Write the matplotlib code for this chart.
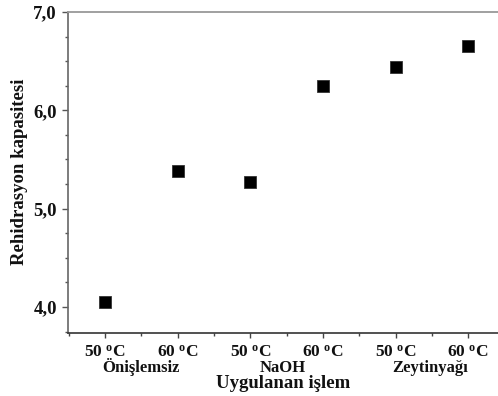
import matplotlib
matplotlib.use("Agg")
import matplotlib.pyplot as plt
from matplotlib.ticker import MultipleLocator, FixedLocator

plt.rcParams['font.family'] = ['Liberation Serif', 'DejaVu Serif']
plt.rcParams['font.weight'] = 'bold'
plt.rcParams['mathtext.fontset'] = 'custom'
plt.rcParams['mathtext.rm'] = 'Liberation Serif:bold'
plt.rcParams['mathtext.bf'] = 'Liberation Serif:bold'
plt.rcParams['mathtext.it'] = 'Liberation Serif:bold'

temps = ["50 $^{\\mathrm{o}}$C", "60 $^{\\mathrm{o}}$C",
         "50 $^{\\mathrm{o}}$C", "60 $^{\\mathrm{o}}$C",
         "50 $^{\\mathrm{o}}$C", "60 $^{\\mathrm{o}}$C"]
groups = ["Önişlemsiz", "NaOH", "Zeytinyağı"]
values = [4.05, 5.38, 5.27, 6.25, 6.44, 6.65]
yticks = [4.0, 5.0, 6.0, 7.0]
ytick_labels = ["4,0", "5,0", "6,0", "7,0"]

W, H = 498, 396
fig = plt.figure(figsize=(W / 100, H / 100), dpi=100)
ax = fig.add_axes([68 / W, 1 - 333 / H, (498 - 68) / W, (333 - 12) / H])

x = list(range(len(values)))
ax.plot(x, values, linestyle='none', marker='s', markersize=8.6,
        color='black', markeredgecolor='#333333', markeredgewidth=0.6)

ax.set_xlim(-0.51, 5.41)
ax.set_ylim(3.735, 7.0)

ax.set_yticks(yticks)
ax.set_yticklabels(ytick_labels, fontsize=13.5, fontweight='bold', color='#111111')
ax.yaxis.set_minor_locator(MultipleLocator(0.25))
ax.set_xticks(x)
ax.set_xticklabels(temps, fontsize=12.5, fontweight='bold', color='#111111')
ax.xaxis.set_minor_locator(FixedLocator([-0.5, 0.5, 1.5, 2.5, 3.5, 4.5]))

ax.tick_params(axis='y', which='major', direction='out', length=4.5, width=1.0,
               color='#555555', pad=3.5)
ax.tick_params(axis='y', which='minor', direction='out', length=2.5, width=1.0,
               color='#555555')
ax.tick_params(axis='x', which='major', direction='out', length=3.5, width=1.0,
               color='#444444', pad=5)
ax.tick_params(axis='x', which='minor', direction='out', length=2.5, width=1.0,
               color='#444444')

ax.spines['right'].set_visible(False)
ax.spines['top'].set_color('#999999')
ax.spines['top'].set_linewidth(1.3)
ax.spines['left'].set_color('#666666')
ax.spines['left'].set_linewidth(1.2)
ax.spines['bottom'].set_color('#333333')
ax.spines['bottom'].set_linewidth(1.2)

trans = ax.get_xaxis_transform()
centers = [0.5, 2.45, 4.47]
for c, g in zip(centers, groups):
    ax.text(c, -(372 - 333) / (333 - 12), g, transform=trans, ha='center',
            va='baseline', fontsize=12, fontweight='bold', color='#111111')

ax.text(0.5, -(388.5 - 333) / (333 - 12), "Uygulanan işlem", transform=ax.transAxes,
        ha='center', va='baseline', fontsize=13.5, fontweight='bold', color='#111111')

fig.text(20 / W, 1 - 172 / H, "Rehidrasyon kapasitesi", rotation=90,
         ha='center', va='center', fontsize=13.5, fontweight='bold', color='#111111')

fig.savefig("out.png", dpi=100)
